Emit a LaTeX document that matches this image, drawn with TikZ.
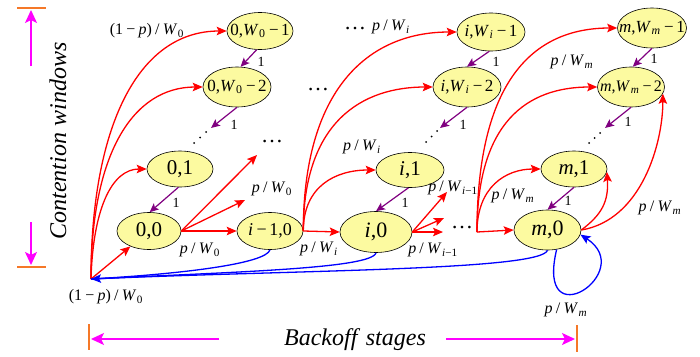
\documentclass[tikz,border=0pt]{standalone}
\usepackage{fontspec}
\setmainfont{Liberation Serif}
\usetikzlibrary{arrows.meta,shapes.geometric}
\definecolor{nodefill}{RGB}{252,250,160}
\definecolor{purp}{RGB}{128,0,128}
\definecolor{magn}{RGB}{255,0,255}
\definecolor{orng}{RGB}{245,120,40}
\newcommand{\myfs}[1]{\fontsize{#1}{#1}\selectfont}
\newcommand{\mW}[1]{\textit{W}\kern0.6pt\textsubscript{#1}}
\newcommand{\pW}[1]{\textit{p}\hspace{0.2em}/\hspace{0.2em}\mW{#1}}
\newcommand{\qpW}{(1\hspace{0.2em}−\hspace{0.2em}\textit{p})\hspace{0.2em}/\hspace{0.2em}\mW{0}}
\newcommand{\mn}{\hspace{0.2em}−\hspace{0.15em}}
\newcommand{\mb}[1]{\makebox[0pt][c]{#1}}
\begin{document}
\begin{tikzpicture}[x=1pt,y=-1pt,
  st/.style={ellipse, draw=black, line width=0.6pt, fill=nodefill, inner sep=0pt},
  redarr/.style={draw=red, line width=1.3pt, -{Stealth[length=10pt,width=8.5pt,inset=2pt]}},
  purarr/.style={draw=purp, line width=1.2pt, -{Stealth[length=9pt,width=8pt,inset=2pt]}},
  bluearr/.style={draw=blue, line width=1.3pt, -{Stealth[length=10pt,width=8.5pt,inset=2pt]}},
  blueline/.style={draw=blue, line width=1.3pt},
  magarr/.style={draw=magn, line width=1.6pt, -{Stealth[length=13pt,width=12pt,inset=3pt]}},
  tick/.style={draw=orng, line width=1.5pt},
  lab/.style={font=\myfs{16}, inner sep=0pt},
  one/.style={font=\myfs{14}, inner sep=0pt},
  hdots/.style={font=\myfs{22}, inner sep=0pt},
  dotfill/.style={fill=black}
]
\useasboundingbox (0,0) rectangle (700,356);

% ---- states
\node[st, minimum width=66pt, minimum height=37pt, font=\myfs{17}] (n0W1) at (260,31) {\mb{0,\mW{0}\mn 1}};
\node[st, minimum width=68pt, minimum height=40pt, font=\myfs{17}] (n0W2) at (237,87) {\mb{0,\mW{0}\mn 2}};
\node[st, minimum width=66pt, minimum height=36pt, font=\myfs{21}] (n01) at (180,169) {\mb{0,1}};
\node[st, minimum width=64pt, minimum height=37pt, font=\myfs{21}] (n00) at (149,231) {\mb{0,0}};
\node[st, minimum width=66pt, minimum height=37pt, font=\myfs{18}] (ni10) at (270,231) {\mb{\textit{i}\mn 1,0}};
\node[st, minimum width=72pt, minimum height=41pt, font=\myfs{22}] (ni0) at (376,232) {\mb{\textit{i},0}};
\node[st, minimum width=68pt, minimum height=35pt, font=\myfs{21}] (ni1) at (410,170) {\mb{\textit{i},1}};
\node[st, minimum width=68pt, minimum height=38pt, font=\myfs{17}] (niW1) at (491,32) {\mb{\textit{i},\mW{\textit{i}}\mn 1}};
\node[st, minimum width=68pt, minimum height=40pt, font=\myfs{17}] (niW2) at (467,87) {\mb{\textit{i},\mW{\textit{i}}\mn 2}};
\node[st, minimum width=69pt, minimum height=40pt, font=\myfs{17}] (nmW1) at (652,28) {\mb{\textit{m},\mW{\textit{m}}\mn 1}};
\node[st, minimum width=67pt, minimum height=40pt, font=\myfs{16}] (nmW2) at (631,87) {\mb{\textit{m},\mW{\textit{m}}\mn 2}};
\node[st, minimum width=66pt, minimum height=36pt, font=\myfs{21}] (nm1) at (574,169) {\mb{\textit{m},1}};
\node[st, minimum width=67pt, minimum height=40pt, font=\myfs{22}] (nm0) at (547.5,230) {\mb{\textit{m},0}};

% ---- diagonal dots (drawn as small dots)
\foreach \px/\py in {206/132, 200/137.5, 194/143, 437/131, 431.5/136.5, 426/142, 600/133, 594.5/138, 589/143}
  \fill[dotfill] (\px,\py) circle (1pt);
% ---- horizontal ellipses
\node[hdots] (hd1) at (272,142) {…};
\node[hdots] (hd2) at (318,90) {…};
\node[hdots] (hd3) at (355,29) {…};
\node[hdots] (hd4) at (462,228) {…};

% ---- junction points
\coordinate (S) at (91,279);
\coordinate (T) at (477,232);
\coordinate (q1) at (245,200);
\coordinate (q2) at (257,155);
\coordinate (r1) at (447,192);
\coordinate (r2) at (444,218);
\coordinate (r3) at (443,232);
\coordinate (d0) at (211,128);
\coordinate (di) at (440,128);
\coordinate (dm) at (605,128);

% ---- red transitions
\draw[redarr] (S) -- (n00);
\draw[redarr] (S) .. controls +(2,-70) and +(-35,0) .. (n01.west);
\draw[redarr] (S) .. controls +(0,-125) and +(-70,0) .. (n0W2.west);
\draw[redarr] (S) .. controls +(0,-150) and +(-90,0) .. (n0W1.west);
\draw[redarr] (n00.east) -- (ni10.west);
\draw[redarr] (n00.east) -- (q1);
\draw[redarr] (n00.east) -- (q2);
\draw[redarr] (ni10.east) -- (ni0.west);
\draw[redarr] (ni10.east) .. controls +(0,-45) and +(-40,0) .. (ni1.west);
\draw[redarr] (ni10.east) .. controls +(0,-110) and +(-70,0) .. (niW2.west);
\draw[redarr] (ni10.east) .. controls +(0,-140) and +(-90,0) .. (niW1.west);
\draw[redarr] (ni0.east) -- (r1);
\draw[redarr] (ni0.east) -- (r2);
\draw[redarr] (ni0.east) -- (r3);
\draw[redarr] (T) -- (nm0.west);
\draw[redarr] (T) .. controls +(0,-45) and +(-35,0) .. (nm1.west);
\draw[redarr] (T) .. controls +(0,-110) and +(-70,0) .. (nmW2.west);
\draw[redarr] (T) .. controls +(0,-150) and +(-85,0) .. (nmW1.west);
\draw[redarr] (nm0.east) .. controls +(20,-15) and +(2,30) .. (nm1.-5);
\draw[redarr] (nm0.east) .. controls +(60,-10) and +(0,50) .. (nmW2.-12);

% ---- purple (countdown)
\draw[purarr] (n0W1.-100) -- (n0W2.80);
\draw[purarr] (n0W2.-90) -- (d0);
\draw[purarr] (n01.-95) -- (n00.88);
\draw[purarr] (niW1.-95) -- (niW2.north);
\draw[purarr] (niW2.-90) -- (di);
\draw[purarr] (ni1.-95) -- (ni0.north);
\draw[purarr] (nmW1.-90) -- (nmW2.85);
\draw[purarr] (nmW2.-90) -- (dm);
\draw[purarr] (nm1.-90) -- (nm0.north);

% ---- blue (success back to stage 0)
\draw[blueline] (ni10.south) .. controls +(-4,14) and +(90,-5) .. (S);
\draw[blueline] (ni0.south) .. controls +(-4,16) and +(140,-7) .. (S);
\draw[bluearr] (nm0.south) .. controls +(-7,20) and +(210,-9) .. (S);
\draw[bluearr] (nm0.-65) .. controls (535,340) and (638,272) .. (nm0.-8);

% ---- labels
\node[lab] (lq1) at (147,31) {\qpW};
\node[lab] (lq2) at (106,297) {\qpW};
\node[lab] (lp1) at (200,250) {\pW{0}};
\node[lab] (lp2) at (272,189) {\pW{0}};
\node[lab] (lp3) at (391,27) {\pW{\textit{i}}};
\node[lab] (lp4) at (362,147) {\pW{\textit{i}}};
\node[lab] (lp5) at (319,249) {\pW{\textit{i}}};
\node[lab] (lp6) at (433,250) {\pW{\textit{i}−1}};
\node[lab] (lp7) at (453,188) {\pW{\textit{i}−1}};
\node[lab] (lp8) at (572,62) {\pW{\textit{m}}};
\node[lab] (lp9) at (513,196) {\pW{\textit{m}}};
\node[lab] (lp10) at (660,208) {\pW{\textit{m}}};
\node[lab] (lp11) at (566,310) {\pW{\textit{m}}};

\node[one] (o1) at (261,62) {1};
\node[one] (o2) at (234,125) {1};
\node[one] (o3) at (176,203) {1};
\node[one] (o4) at (496,62) {1};
\node[one] (o5) at (463,125) {1};
\node[one] (o6) at (405,203) {1};
\node[one] (o7) at (654,59) {1};
\node[one] (o8) at (628,122) {1};
\node[one] (o9) at (568,201) {1};

% ---- axes
\coordinate (vt1) at (17,8);   \coordinate (vt2) at (46,8);
\coordinate (va0) at (31,66);  \coordinate (va1) at (31,10);
\coordinate (vb0) at (31,222); \coordinate (vb1) at (31,265);
\coordinate (vu1) at (17,267); \coordinate (vu2) at (46,267);
\draw[tick] (vt1) -- (vt2);
\draw[tick] (vu1) -- (vu2);
\draw[magarr] (va0) -- (va1);
\draw[magarr] (vb0) -- (vb1);
\coordinate (hl1) at (89,324);  \coordinate (hl2) at (89,350);
\coordinate (hr1) at (577,325); \coordinate (hr2) at (577,352);
\coordinate (ha0) at (219,339); \coordinate (ha1) at (91,339);
\coordinate (hb0) at (446,339); \coordinate (hb1) at (575,339);
\draw[tick] (hl1) -- (hl2);
\draw[tick] (hr1) -- (hr2);
\draw[magarr] (ha0) -- (ha1);
\draw[magarr] (hb0) -- (hb1);
\node[rotate=90, font=\myfs{24}\itshape, inner sep=0pt] (cw) at (58,141) {Contention windows};
\node[font=\myfs{24}\itshape, inner sep=0pt] (bs) at (355,340) {Backoff\hspace{0.35em}stages};
\end{tikzpicture}
\end{document}
